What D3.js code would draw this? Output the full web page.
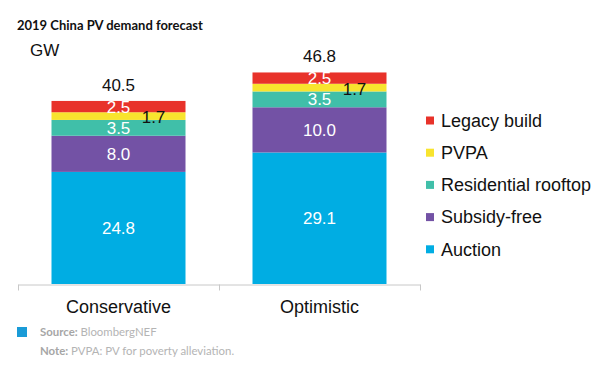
<!DOCTYPE html>
<html>
<head>
<meta charset="utf-8">
<script src="https://cdn.jsdelivr.net/npm/d3@7"></script>
<style>
  body { margin: 0; background: #fff; }
  svg { display: block; }
  text { font-family: "Liberation Sans", Arial, sans-serif; }
</style>
</head>
<body>
<div id="chart"></div>
<script>
// Data
var categories = ['Conservative', 'Optimistic'];
var seriesNames = ['Auction', 'Subsidy-free', 'Residential rooftop', 'PVPA', 'Legacy build'];
var auction = [24.8, 29.1];
var subsidyFree = [8.0, 10.0];
var residential = [3.5, 3.5];
var pvpa = [1.7, 1.7];
var legacy = [2.5, 2.5];
var totals = [40.5, 46.8];
var colors = ['#00ade3', '#7352a5', '#40bfa9', '#f8e42e', '#e8322a'];
var labelColors = ['#fff', '#fff', '#fff', '#111', '#fff'];

var rows = categories.map(function (c, i) {
  return {
    cat: c,
    'Auction': auction[i],
    'Subsidy-free': subsidyFree[i],
    'Residential rooftop': residential[i],
    'PVPA': pvpa[i],
    'Legacy build': legacy[i]
  };
});

// Chart setup
var width = 600, height = 373;
var svg = d3.select('#chart')
  .append('svg')
  .attr('width', width)
  .attr('height', height);

var axisScale = d3.scaleBand()
  .domain(categories)
  .range([18, 420]);
var xScale = d3.scaleBand()
  .domain(categories)
  .range([18, 420])
  .paddingInner(1 / 3)
  .paddingOuter(1 / 6);
var yScale = d3.scaleLinear()
  .domain([0, 50])
  .range([284, 58]);

var stack = d3.stack().keys(seriesNames);
var layers = stack(rows);

// Bars
var layer = svg.selectAll('g.layer')
  .data(layers)
  .enter()
  .append('g')
  .attr('class', 'layer')
  .attr('fill', function (d, i) { return colors[i]; });

layer.selectAll('rect')
  .data(function (d) { return d; })
  .enter()
  .append('rect')
  .attr('x', function (d) { return xScale(d.data.cat); })
  .attr('y', function (d) { return yScale(d[1]); })
  .attr('width', xScale.bandwidth())
  .attr('height', function (d) { return yScale(d[0]) - yScale(d[1]); });

// Segment labels
layers.forEach(function (ly, li) {
  svg.selectAll(null)
    .data(ly)
    .enter()
    .append('text')
    .attr('x', function (d) {
      var cx = xScale(d.data.cat) + xScale.bandwidth() / 2;
      return ly.key === 'PVPA' ? xScale(d.data.cat) + xScale.bandwidth() - 32 : cx;
    })
    .attr('y', function (d) { return (yScale(d[0]) + yScale(d[1])) / 2 + (ly.key === 'PVPA' ? 1 : 0); })
    .attr('dy', '0.36em')
    .attr('text-anchor', 'middle')
    .attr('font-size', 17)
    .attr('fill', labelColors[li])
    .text(function (d) { return (d[1] - d[0]).toFixed(1); });
});

// Totals
svg.selectAll('text.total')
  .data(totals)
  .enter()
  .append('text')
  .attr('class', 'total')
  .attr('x', function (d, i) { return xScale(categories[i]) + xScale.bandwidth() / 2; })
  .attr('y', function (d) { return yScale(d) - 10; })
  .attr('text-anchor', 'middle')
  .attr('font-size', 17)
  .attr('fill', '#111')
  .text(function (d) { return d.toFixed(1); });

// X axis
var xAxis = d3.axisBottom(axisScale).tickSize(0).tickPadding(16);
var axisG = svg.append('g')
  .attr('transform', 'translate(0,284.5)')
  .call(xAxis);
axisG.select('.domain').attr('stroke', '#c8c8c8');
axisG.selectAll('.tick text')
  .attr('font-size', 18)
  .attr('fill', '#111')
  .style('font-family', '"Liberation Sans", Arial, sans-serif');
var edges = [18, 420].concat(categories.slice(1).map(function (c) { return axisScale(c); }));
axisG.selectAll('line.edge')
  .data(edges)
  .enter()
  .append('line')
  .attr('class', 'edge')
  .attr('x1', function (d) { return d + 0.5; })
  .attr('x2', function (d) { return d + 0.5; })
  .attr('y1', 0)
  .attr('y2', 6)
  .attr('stroke', '#c8c8c8');

// Legend
var legendNames = seriesNames.slice().reverse();
var legendColors = colors.slice().reverse();
var legend = svg.selectAll('g.legend')
  .data(legendNames)
  .enter()
  .append('g')
  .attr('class', 'legend')
  .attr('transform', function (d, i) { return 'translate(426,' + (120.5 + i * 32.2) + ')'; });
legend.append('rect')
  .attr('x', 0)
  .attr('y', -4)
  .attr('width', 8)
  .attr('height', 8)
  .attr('fill', function (d, i) { return legendColors[i]; });
legend.append('text')
  .attr('x', 15)
  .attr('y', 0)
  .attr('dy', '0.35em')
  .attr('font-size', 18)
  .attr('fill', '#111')
  .text(function (d) { return d; });

// Title and unit
svg.append('text')
  .attr('x', 17)
  .attr('y', 30)
  .attr('font-size', 13)
  .attr('font-weight', 700)
  .style('font-family', 'Lato, sans-serif')
  .attr('fill', '#111')
  .text('2019 China PV demand forecast');
svg.append('text')
  .attr('x', 30)
  .attr('y', 56)
  .attr('font-size', 17)
  .attr('fill', '#111')
  .text('GW');

// Footer
svg.append('rect')
  .attr('x', 17)
  .attr('y', 327)
  .attr('width', 10)
  .attr('height', 10)
  .attr('fill', '#1a9bd7');
var src = svg.append('text')
  .attr('x', 40)
  .attr('y', 336)
  .attr('font-size', 11.4)
  .style('font-family', 'Lato, sans-serif')
  .attr('fill', '#b4b4b4');
src.append('tspan').attr('font-weight', 700).attr('fill', '#a6a6a6').text('Source: ');
src.append('tspan').text('BloombergNEF');
var note = svg.append('text')
  .attr('x', 40)
  .attr('y', 355)
  .attr('font-size', 11.4)
  .style('font-family', 'Lato, sans-serif')
  .attr('fill', '#b4b4b4');
note.append('tspan').attr('font-weight', 700).attr('fill', '#a6a6a6').text('Note: ');
note.append('tspan').text('PVPA: PV for poverty alleviation.');
</script>
</body>
</html>
